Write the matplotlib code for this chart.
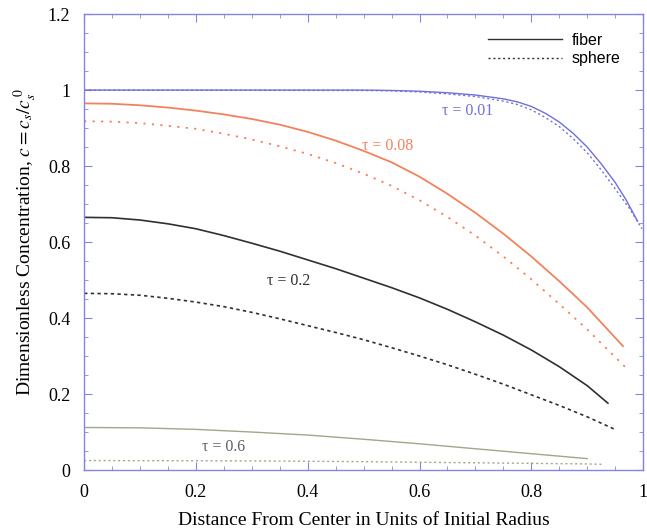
import matplotlib
matplotlib.use("Agg")
from matplotlib import pyplot as plt
from matplotlib.ticker import MultipleLocator, FuncFormatter

plt.rcParams['font.family'] = ['Liberation Serif', 'DejaVu Serif']
plt.rcParams['mathtext.fontset'] = 'stix'

# tau = 0.01
x_001_f = [0, 0.5, 0.55, 0.6, 0.65, 0.7, 0.75, 0.775, 0.8, 0.825, 0.85, 0.875,
           0.9, 0.925, 0.95, 0.97, 0.99]
y_001_f = [1.0, 1.0, 0.999, 0.997, 0.993, 0.987, 0.977, 0.969, 0.957, 0.939, 0.916, 0.886,
           0.85, 0.806, 0.757, 0.71, 0.655]
x_001_s = [0, 0.5, 0.55, 0.6, 0.65, 0.7, 0.75, 0.775, 0.8, 0.825, 0.85, 0.875,
           0.9, 0.925, 0.95, 0.975, 0.998]
y_001_s = [1.0, 0.999, 0.998, 0.995, 0.99, 0.983, 0.971, 0.962, 0.948, 0.928, 0.904, 0.872,
           0.835, 0.79, 0.74, 0.69, 0.635]

# tau = 0.08
x_008_f = [0, 0.05, 0.1, 0.15, 0.2, 0.25, 0.3, 0.35, 0.4, 0.45, 0.5,
           0.55, 0.6, 0.65, 0.7, 0.75, 0.8, 0.85, 0.9, 0.964]
y_008_f = [0.965, 0.964, 0.96, 0.954, 0.946, 0.936, 0.924, 0.909, 0.89, 0.867, 0.84,
           0.81, 0.772, 0.727, 0.677, 0.622, 0.562, 0.497, 0.428, 0.326]
x_008_s = [0, 0.05, 0.1, 0.15, 0.2, 0.25, 0.3, 0.35, 0.4, 0.45, 0.5,
           0.55, 0.6, 0.65, 0.7, 0.75, 0.8, 0.85, 0.9, 0.968]
y_008_s = [0.918, 0.917, 0.913, 0.906, 0.898, 0.885, 0.87, 0.852, 0.832, 0.808, 0.78,
           0.748, 0.71, 0.666, 0.617, 0.562, 0.502, 0.437, 0.37, 0.271]

# tau = 0.2
x_02_f = [0, 0.05, 0.1, 0.15, 0.2, 0.25, 0.3, 0.35, 0.4, 0.45, 0.5,
          0.55, 0.6, 0.65, 0.7, 0.75, 0.8, 0.85, 0.9, 0.937]
y_02_f = [0.665, 0.664, 0.658, 0.648, 0.635, 0.617, 0.597, 0.576, 0.553, 0.53, 0.505,
          0.48, 0.453, 0.423, 0.39, 0.355, 0.316, 0.272, 0.222, 0.176]
x_02_s = [0, 0.05, 0.1, 0.15, 0.2, 0.25, 0.3, 0.35, 0.4, 0.45, 0.5,
          0.55, 0.6, 0.65, 0.7, 0.75, 0.8, 0.85, 0.9, 0.948]
y_02_s = [0.465, 0.464, 0.46, 0.452, 0.442, 0.43, 0.415, 0.398, 0.38, 0.362, 0.343,
          0.322, 0.3, 0.277, 0.252, 0.226, 0.198, 0.17, 0.14, 0.108]

# tau = 0.6
x_06_f = [0, 0.1, 0.2, 0.3, 0.4, 0.5, 0.6, 0.7, 0.8, 0.9]
y_06_f = [0.112, 0.111, 0.107, 0.10, 0.092, 0.081, 0.069, 0.056, 0.043, 0.03]
x_06_s = [0, 0.3, 0.5, 0.7, 0.9, 0.93]
y_06_s = [0.025, 0.024, 0.022, 0.019, 0.016, 0.015]

blue = '#6f70d8'
orange = '#f2825e'
black = '#303030'
green = '#9fa88a'
spine = '#8585e0'

fig = plt.figure(figsize=(6.47, 5.32), dpi=100)
ax = fig.add_axes([0.13, 0.1165, 0.864, 0.857])

ax.plot(x_001_f, y_001_f, color=blue, lw=1.0)
ax.plot(x_001_s, y_001_s, color=blue, lw=1.0, ls=(0, (1.5, 2)))
ax.plot(x_008_f, y_008_f, color=orange, lw=1.3)
ax.plot(x_008_s, y_008_s, color=orange, lw=1.3, ls=(0, (1.2, 3.5)))
ax.plot(x_02_f, y_02_f, color=black, lw=1.2)
ax.plot(x_02_s, y_02_s, color=black, lw=1.2, ls=(0, (2, 2)))
ax.plot(x_06_f, y_06_f, color=green, lw=1.0)
ax.plot(x_06_s, y_06_s, color=green, lw=1.0, ls=(0, (1.5, 2)))

ax.text(0.64, 0.945, 'τ = 0.01', color=blue, fontsize=11.5, va='center')
ax.text(0.497, 0.853, 'τ = 0.08', color=orange, fontsize=11.5, va='center')
ax.text(0.327, 0.497, 'τ = 0.2', color=black, fontsize=11.5, va='center')
ax.text(0.21, 0.06, 'τ = 0.6', color='#606060', fontsize=11.5, va='center')

# legend
h1, = ax.plot([], [], color=black, lw=1.0, label='fiber')
h2, = ax.plot([], [], color=black, lw=1.0, ls=(0, (1.5, 2)), label='sphere')
leg = ax.legend(handles=[h1, h2], loc='upper right', frameon=False,
                bbox_to_anchor=(0.985, 0.99), handlelength=4.6,
                prop={'family': 'Liberation Sans', 'size': 11.5},
                labelspacing=0.2, handletextpad=0.6)

ax.set_xlim(0, 1)
ax.set_ylim(0, 1.2)
ax.xaxis.set_major_locator(MultipleLocator(0.2))
ax.xaxis.set_minor_locator(MultipleLocator(0.05))
ax.yaxis.set_major_locator(MultipleLocator(0.2))
ax.yaxis.set_minor_locator(MultipleLocator(0.05))
fmt = FuncFormatter(lambda v, p: ('%g' % round(v, 2)))
ax.xaxis.set_major_formatter(fmt)
ax.yaxis.set_major_formatter(fmt)
ax.tick_params(which='both', direction='in', top=True, right=True,
               color=spine, labelsize=13)
ax.tick_params(which='major', length=6, pad=10)
ax.tick_params(which='minor', length=3)
for s in ax.spines.values():
    s.set_color(spine)
    s.set_linewidth(1.0)

ax.set_xlabel('Distance From Center in Units of Initial Radius', fontsize=14, labelpad=8)
ax.set_ylabel(r'Dimensionless Concentration, $c = c_s/c_s^{\,0}$', fontsize=14, labelpad=6)

fig.savefig('out.png', dpi=100)
